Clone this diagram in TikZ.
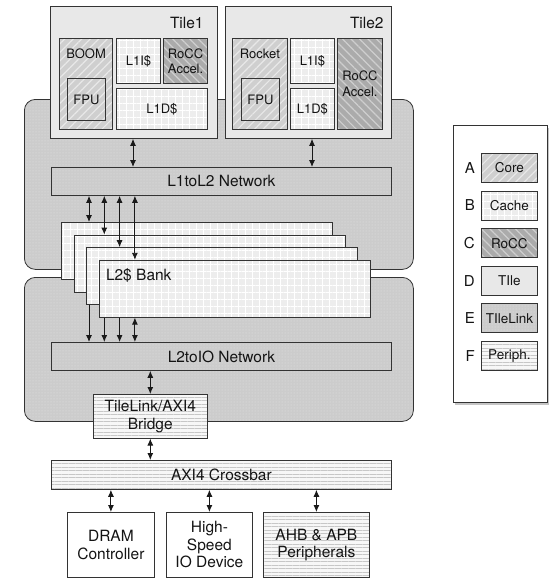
\documentclass[tikz,border=0pt]{standalone}
\usepackage{fontspec}
\setmainfont{TeX Gyre Heros}
\usetikzlibrary{arrows.meta,patterns.meta,shadows}

\tikzset{
  bigtxt/.style={font=\fontsize{15.5}{17.5}\selectfont},
  smalltxt/.style={font=\fontsize{13}{15.5}\selectfont},
  blk/.style={draw=black!80, line width=0.8pt, anchor=north west, inner sep=1pt, align=center, text=black!92, smalltxt},
  tilebox/.style={blk, fill=black!9},
  corebox/.style={blk, preaction={fill=black!19}, pattern={Lines[angle=45,distance=6pt,line width=1.2pt]}, pattern color=black!9},
  cachebox/.style={blk, preaction={fill=black!7}, pattern={Hatch[angle=0,distance=7pt,line width=0.9pt]}, pattern color=white},
  roccbox/.style={blk, preaction={fill=black!33}, pattern={Lines[angle=-45,distance=6pt,line width=1.2pt]}, pattern color=black!19},
  linkbox/.style={blk, preaction={fill=black!20}, pattern={Dots[distance=3pt,radius=0.5pt]}, pattern color=black!10},
  periphbox/.style={blk, preaction={fill=black!3}, pattern={Lines[angle=0,distance=3.5pt,line width=0.6pt]}, pattern color=black!22},
  dbl/.style={{Latex[length=7pt,width=6pt]}-{Latex[length=7pt,width=6pt]}, line width=0.9pt, black!90},
  one/.style={-{Latex[length=7pt,width=6pt]}, line width=0.9pt, black!90},
  every label/.style={smalltxt, text=black!92, inner sep=0pt},
}

\begin{document}
\begin{tikzpicture}[x=1pt, y=1pt]
  \useasboundingbox (0,0) rectangle (558,-579);

  % TileLink backdrops
  \node[linkbox, rounded corners=11pt, minimum width=389pt, minimum height=170pt] (upperbg) at (24,-99) {};
  \node[linkbox, rounded corners=11pt, minimum width=389pt, minimum height=144pt] (lowerbg) at (24,-277) {};

  % Tile1
  \node[tilebox, minimum width=167pt, minimum height=132pt] (tile1) at (50,-6) {};
  \node[anchor=east, bigtxt, text=black!92, inner sep=0pt] (tile1name) at ([xshift=-14pt, yshift=-17pt]tile1.north east) {Tile1};
  \node[corebox, minimum width=53pt, minimum height=91pt, label={[anchor=north, yshift=-11pt]north:BOOM}] (boom) at (59,-38) {};
  \node[corebox, minimum width=38pt, minimum height=42pt] (fpu1) at (67,-78) {FPU};
  \node[cachebox, minimum width=44pt, minimum height=45pt] (l1i1) at (116,-38) {L1I\$};
  \node[roccbox, minimum width=44pt, minimum height=45pt] (rocc1) at (163,-38) {RoCC\\Accel.};
  \node[cachebox, minimum width=91pt, minimum height=41pt] (l1d1) at (116,-88) {L1D\$};

  % Tile2
  \node[tilebox, minimum width=166pt, minimum height=132pt] (tile2) at (225,-6) {};
  \node[anchor=east, bigtxt, text=black!92, inner sep=0pt] (tile2name) at ([xshift=-8pt, yshift=-17pt]tile2.north east) {Tile2};
  \node[corebox, minimum width=55pt, minimum height=91pt, label={[anchor=north, yshift=-11pt]north:Rocket}] (rocket) at (232,-38) {};
  \node[corebox, minimum width=38pt, minimum height=42pt] (fpu2) at (241,-78) {FPU};
  \node[cachebox, minimum width=44pt, minimum height=45pt] (l1i2) at (290,-38) {L1I\$};
  \node[cachebox, minimum width=44pt, minimum height=41pt] (l1d2) at (290,-88) {L1D\$};
  \node[roccbox, minimum width=45pt, minimum height=91pt] (rocc2) at (337,-38) {RoCC\\Accel.};

  % networks
  \node[linkbox, bigtxt, minimum width=340pt, minimum height=28pt] (l1tol2) at (51,-167) {L1toL2 Network};
  \node[linkbox, bigtxt, minimum width=340pt, minimum height=28pt] (l2toio) at (51,-342) {L2toIO Network};
  \draw[dbl] (tile1.south -| 133,0) -- (l1tol2.north -| 133,0);
  \draw[dbl] (tile2.south -| 312,0) -- (l1tol2.north -| 312,0);

  % L2 banks
  \foreach \i in {0,...,3}{
    \node[cachebox, minimum width=271pt, minimum height=57pt] (bank\i) at ({61+12.6*\i},{-222-12.6*\i}) {};
    \coordinate (ax\i) at ({89+15.3*\i},0);
  }
  \node[anchor=north west, bigtxt, text=black!92, inner sep=0pt] (bankname) at ([xshift=7pt, yshift=-9pt]bank3.north west) {L2\$ Bank};
  \foreach \i in {0,...,3}{
    \draw[dbl] (l1tol2.south -| ax\i) -- (bank\i.north -| ax\i);
  }
  \draw[one] (bank2.south -| ax0) -- (l2toio.north -| ax0);
  \foreach \i in {1,2}{
    \draw[one] (bank3.south -| ax\i) -- (l2toio.north -| ax\i);
  }
  \draw[dbl] (bank3.south -| ax3) -- (l2toio.north -| ax3);

  % bridge and crossbar
  \node[periphbox, bigtxt, minimum width=114pt, minimum height=44pt] (bridge) at (93,-394) {TileLink/AXI4\\Bridge};
  \node[periphbox, bigtxt, minimum width=340pt, minimum height=29pt] (xbar) at (51,-460) {AXI4 Crossbar};
  \draw[dbl] (l2toio.south -| bridge.north) -- (bridge.north);
  \draw[dbl] (bridge.south) -- (xbar.north -| bridge.south);

  % devices
  \node[blk, bigtxt, fill=white, minimum width=87pt, minimum height=65pt] (dram) at (67,-512) {DRAM\\Controller};
  \node[blk, bigtxt, fill=white, minimum width=86pt, minimum height=65pt] (hsio) at (166,-512) {High-\\Speed\\IO Device};
  \node[periphbox, bigtxt, minimum width=106pt, minimum height=65pt] (periph) at (263,-512) {AHB \& APB\\Peripherals};
  \foreach \d in {dram,hsio,periph}{
    \draw[dbl] (xbar.south -| \d.north) -- (\d.north);
  }

  % legend
  \node[draw=black!80, line width=0.8pt, fill=white, anchor=north west, minimum width=94pt, minimum height=277pt,
        drop shadow={shadow xshift=2pt, shadow yshift=-3pt, fill=black!45}] (legend) at (453,-125) {};
  \foreach \l/\t/\s [count=\i from 0] in {A/Core/corebox, B/Cache/cachebox, C/RoCC/roccbox, D/TIle/tilebox, E/TIleLink/linkbox, F/Periph./periphbox}{
    \node[\s, minimum width=56pt, minimum height=29pt, font=\fontsize{13.5}{15}\selectfont, inner sep=0pt] (key\l) at (481,{-153-37.6*\i}) {\t};
    \node[anchor=east, font=\fontsize{15}{16}\selectfont, text=black!92, inner sep=0pt] (let\l) at ([xshift=-6pt]key\l.west) {\l};
  }
\end{tikzpicture}
\end{document}
